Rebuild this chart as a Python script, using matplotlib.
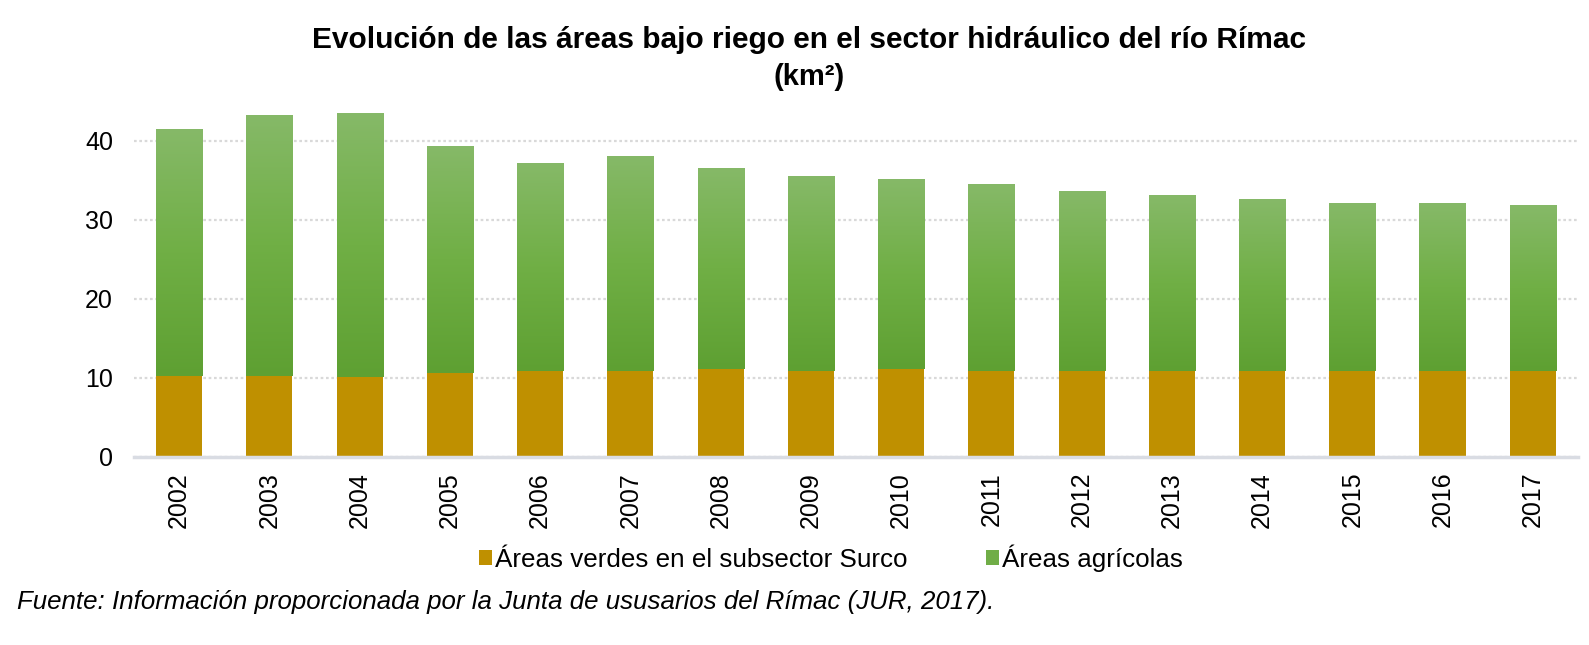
import numpy as np
import matplotlib
matplotlib.use('Agg')
import matplotlib.pyplot as plt
from matplotlib.colors import LinearSegmentedColormap

years = ['2002', '2003', '2004', '2005', '2006', '2007', '2008', '2009',
         '2010', '2011', '2012', '2013', '2014', '2015', '2016', '2017']
verdes_surco = [10.2, 10.2, 10.1, 10.55, 10.8, 10.8, 11.1, 10.8,
                11.1, 10.8, 10.9, 10.9, 10.9, 10.9, 10.9, 10.9]
agricolas = [31.3, 33.1, 33.4, 28.8, 26.4, 27.3, 25.5, 24.7,
             24.1, 23.7, 22.8, 22.2, 21.7, 21.3, 21.2, 21.0]

plt.rcParams['font.family'] = ['Liberation Sans', 'DejaVu Sans']

fig = plt.figure(figsize=(15.89, 6.45), dpi=100)
ax = fig.add_axes([0.0843, 0.2922, 0.9087, 0.5504])

x = np.arange(len(years))
width = 0.51
orange = '#BF9000'
green = '#70AD47'

ax.bar(x, verdes_surco, width, color=orange, zorder=3,
       label='Áreas verdes en el subsector Surco')
green_bars = ax.bar(x, agricolas, width, bottom=verdes_surco, color=green,
                    zorder=3, label='Áreas agrícolas')

# vertical gradient on the green bars
cmap = LinearSegmentedColormap.from_list('g', ['#5EA032', '#70AF45', '#86B968'])
grad = np.linspace(0, 1, 256).reshape(-1, 1)
for bar in green_bars:
    x0, y0 = bar.get_x(), bar.get_y()
    im = ax.imshow(grad, cmap=cmap, origin='lower', aspect='auto',
                   extent=[x0, x0 + bar.get_width(), y0, y0 + bar.get_height()],
                   zorder=4)
    im.set_clip_path(bar)

ax.set_xlim(-0.5, len(years) - 0.5)
ax.set_ylim(0, 45)
ax.set_yticks([0, 10, 20, 30, 40])
ax.set_xticks(x)
ax.set_xticklabels(years, rotation=90)
ax.tick_params(axis='y', length=0, labelsize=18, pad=15)
ax.tick_params(axis='x', length=0, labelsize=18, pad=11)

ax.grid(axis='y', color='#d9d9d9', linestyle=(0, (1.2, 1.2)), linewidth=1.6, zorder=0)
for s in ['top', 'right', 'left']:
    ax.spines[s].set_visible(False)
ax.spines['bottom'].set_color('#d9dce3')
ax.spines['bottom'].set_linewidth(2.5)
ax.spines['bottom'].set_zorder(5)

fig.text(0.509, 0.938, 'Evolución de las áreas bajo riego en el sector hidráulico del río Rímac',
         ha='center', va='center', fontsize=21.5, fontweight='bold')
fig.text(0.509, 0.881, '(km²)', ha='center', va='center', fontsize=21, fontweight='bold')

handles, labels = ax.get_legend_handles_labels()
fig.legend(handles, labels, loc='center', bbox_to_anchor=(0.523, 0.135), ncol=2,
           frameon=False, fontsize=18.7, handlelength=0.52, handleheight=0.52,
           handletextpad=0.12, columnspacing=3.0)

fig.text(0.011, 0.066, 'Fuente: Información proporcionada por la Junta de ususarios del Rímac (JUR, 2017).',
         ha='left', va='center', fontsize=18.6, style='italic')

fig.savefig('out.png', dpi=100)
